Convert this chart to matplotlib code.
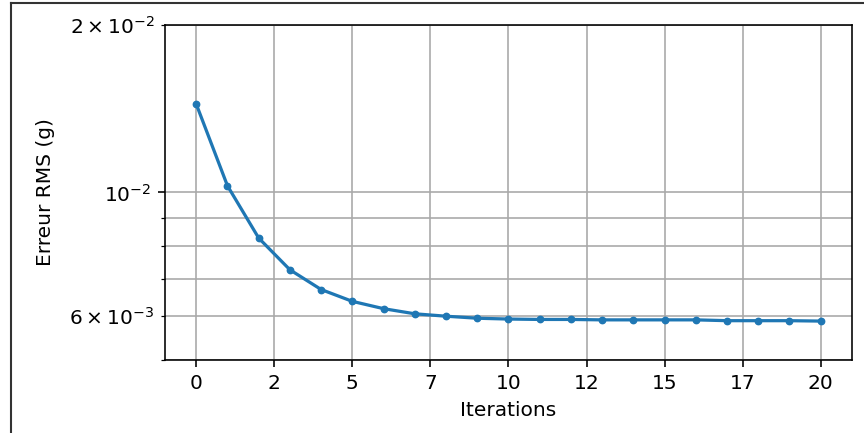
import matplotlib
matplotlib.use("Agg")
import matplotlib.pyplot as plt
from matplotlib.lines import Line2D
from matplotlib.ticker import FormatStrFormatter

# RMS error per iteration
iterations = list(range(21))
rms_error = [0.01442, 0.01028, 0.00828, 0.00726, 0.00669, 0.00637, 0.00618,
             0.00605, 0.00599, 0.00594, 0.00592, 0.00591, 0.00591, 0.00590,
             0.00590, 0.00590, 0.00590, 0.00588, 0.00588, 0.00588, 0.00587]

# everything scaled up ~1.45x from the defaults
s = 1.45
plt.rcParams.update({
    'font.size': 10 * s,
    'axes.linewidth': 0.8 * s,
    'xtick.major.size': 3.5 * s, 'ytick.major.size': 3.5 * s,
    'ytick.minor.size': 2 * s,
    'xtick.major.width': 0.8 * s, 'ytick.major.width': 0.8 * s,
    'ytick.minor.width': 0.6 * s,
    'xtick.major.pad': 3.5 * s, 'ytick.major.pad': 3.5 * s,
    'ytick.minor.pad': 3.4 * s,
    'axes.labelpad': 4 * s,
})

fig = plt.figure(figsize=(8.64, 4.33), dpi=100)
ax = fig.add_axes([0.191, 0.169, 0.795, 0.773])

ax.plot(iterations, rms_error, marker='o', markersize=4.6, linewidth=1.6 * s,
        color='#1f77b4')
ax.set_yscale('log')
ax.set_ylim(5e-3, 2e-2)
ax.set_xlim(-1, 21)
ax.xaxis.set_major_formatter(FormatStrFormatter('%d'))
ax.grid(True, which='both', color='#a8a8a8', linewidth=0.8 * s)
ax.set_xlabel('Iterations')
ax.set_ylabel('Erreur RMS (g)', labelpad=10)

# frame lines along the top and left edges
fig.add_artist(Line2D([0.0127, 0.0127], [0, 0.993], color='#333333', linewidth=1.5))
fig.add_artist(Line2D([0.0127, 1.0], [0.993, 0.993], color='#333333', linewidth=1.5))

fig.savefig('out.png', dpi=100)
